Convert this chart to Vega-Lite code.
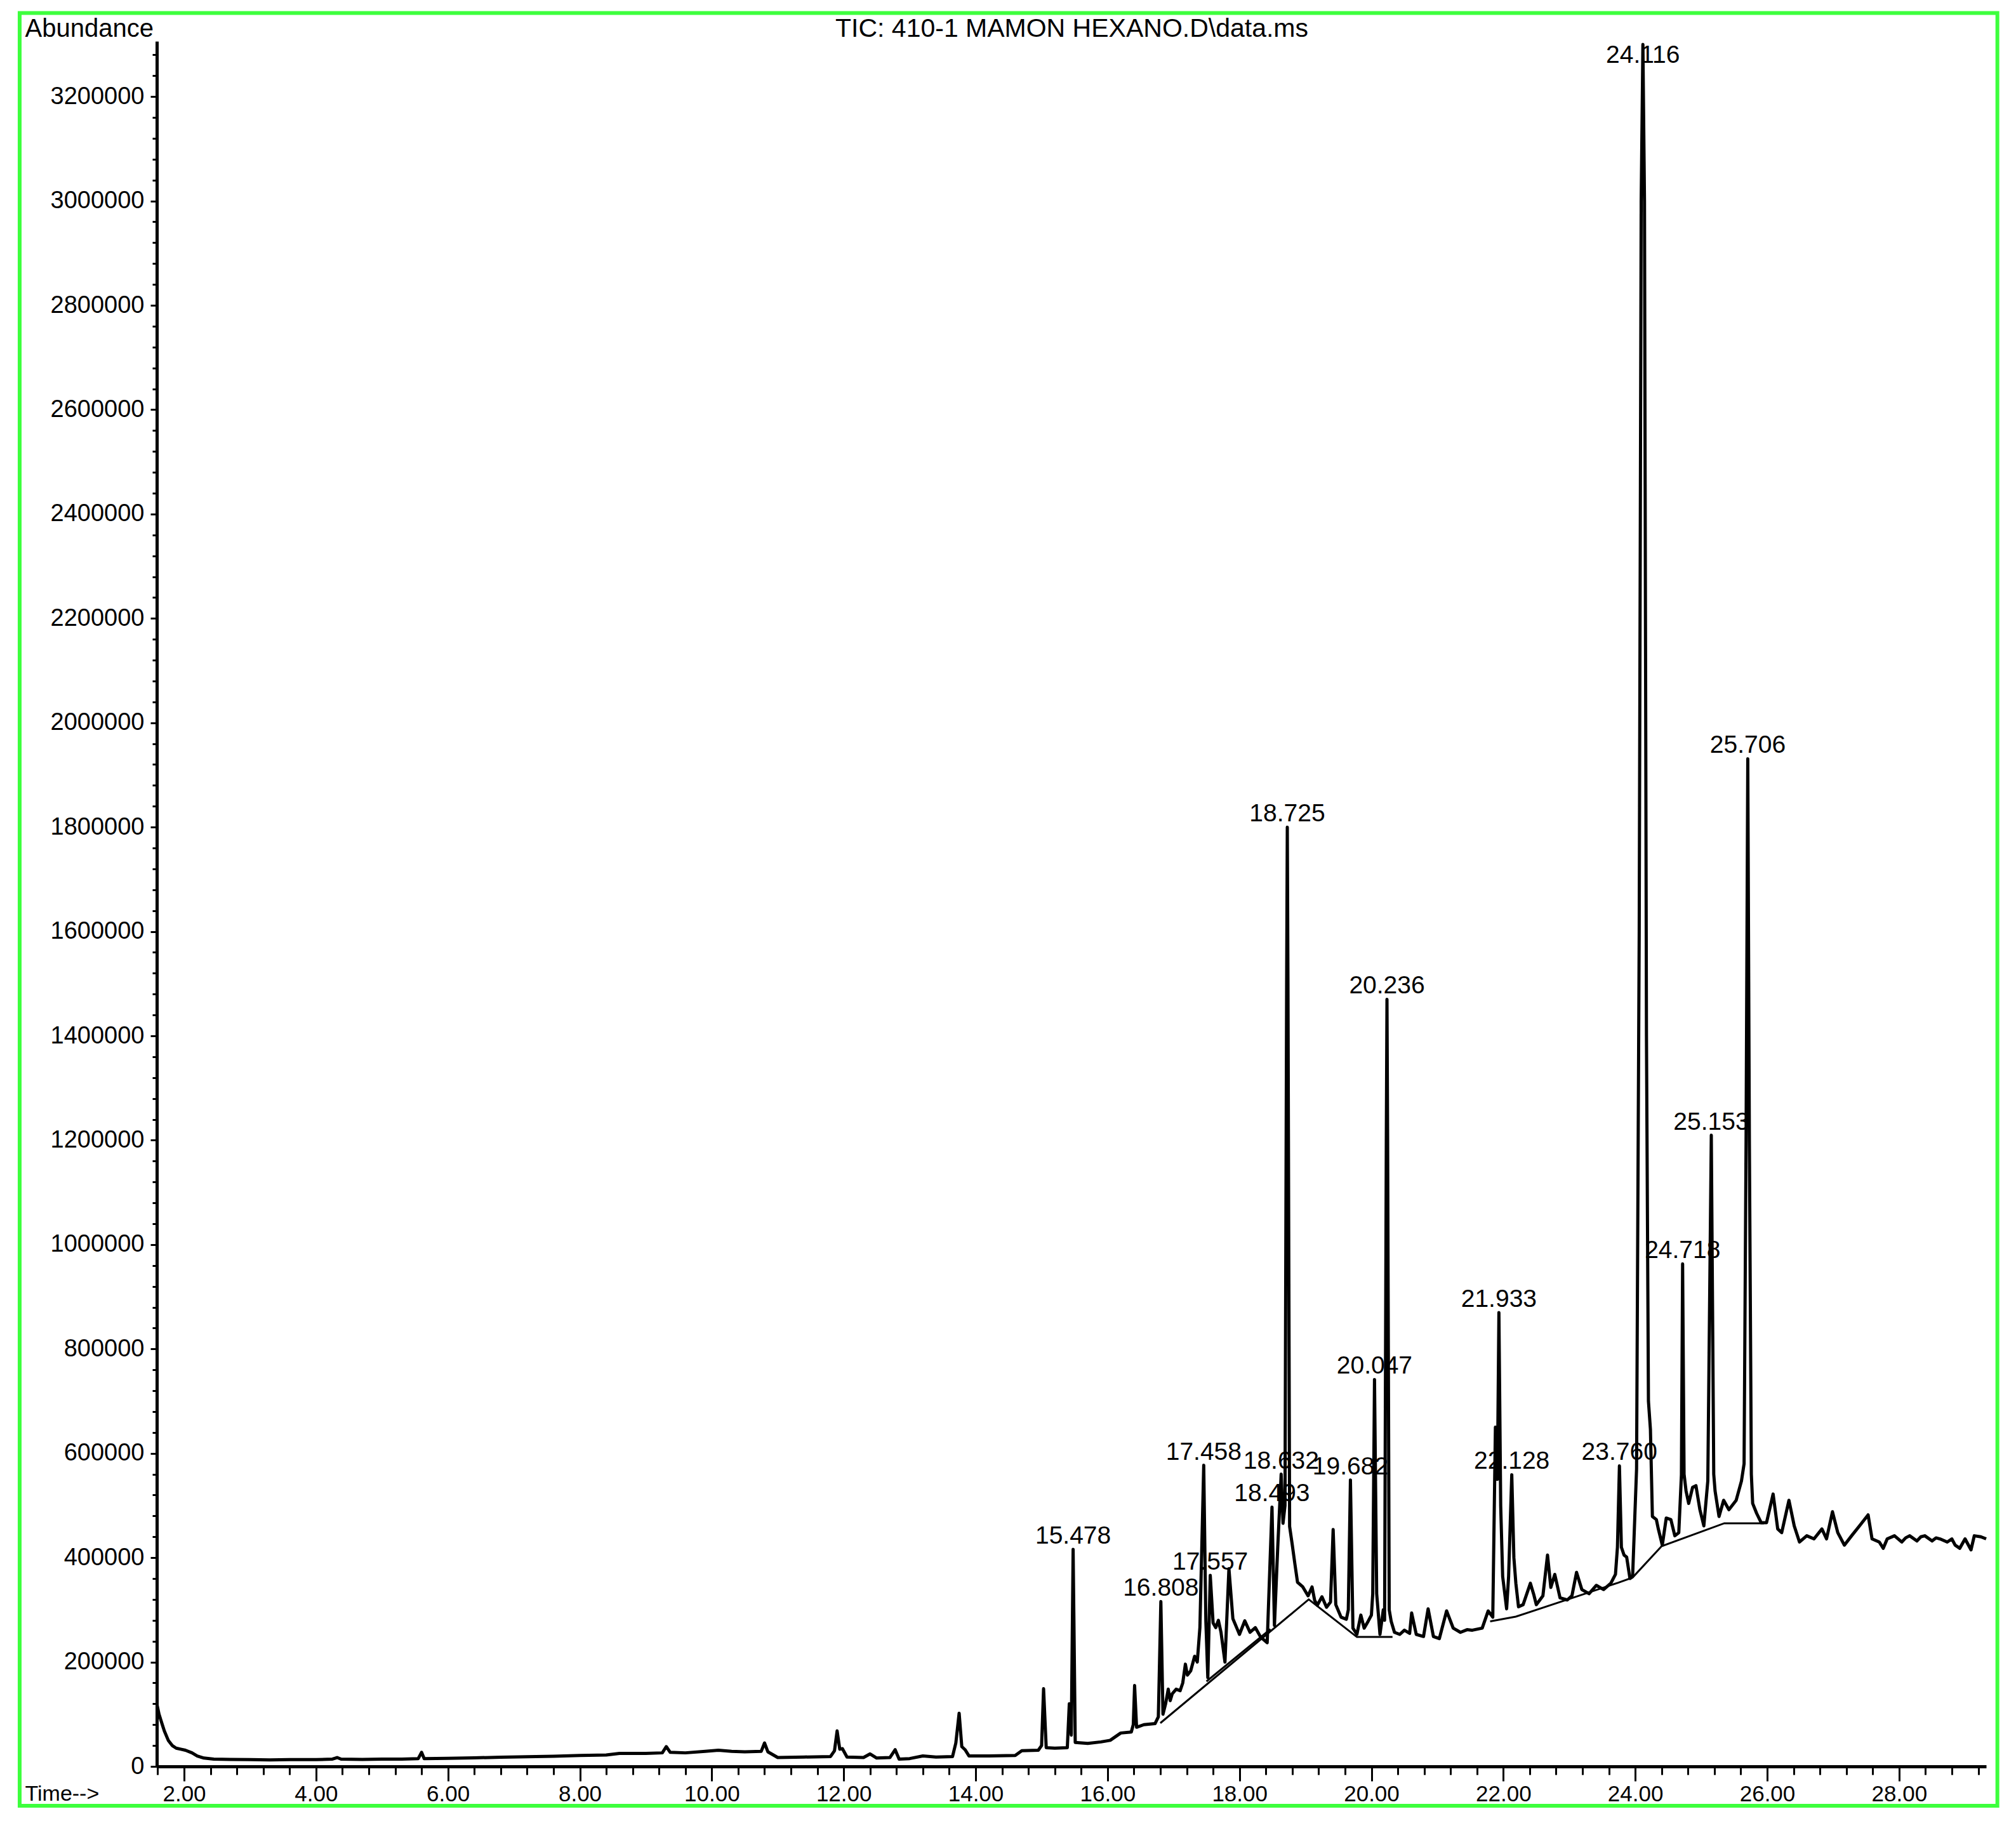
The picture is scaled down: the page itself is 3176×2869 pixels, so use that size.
{
  "$schema": "https://vega.github.io/schema/vega-lite/v6.json",
  "width": 2882,
  "height": 2718,
  "autosize": {"type": "none"},
  "padding": {"left": 247, "top": 65, "right": 47, "bottom": 86},
  "background": "white",
  "datasets": {
    "trace": [
      {"t":1.59,"a":118000},{"t":1.62,"a":100000},{"t":1.65,"a":88000},{"t":1.70,"a":68000},{"t":1.76,"a":50000},{"t":1.82,"a":40000},{"t":1.88,"a":35000},{"t":1.95,"a":33000},{"t":2.02,"a":31000},{"t":2.12,"a":26000},{"t":2.2,"a":20000},{"t":2.3,"a":16000},{"t":2.45,"a":14000},{"t":2.7,"a":13500},{"t":3.0,"a":13000},{"t":3.3,"a":12500},{"t":3.6,"a":13000},{"t":4.0,"a":13000},{"t":4.25,"a":14000},{"t":4.32,"a":17000},{"t":4.38,"a":14000},{"t":4.7,"a":13500},{"t":5.0,"a":14000},{"t":5.3,"a":14000},{"t":5.55,"a":15000},{"t":5.6,"a":27000},{"t":5.64,"a":15000},{"t":6.0,"a":15500},{"t":6.4,"a":16500},{"t":6.8,"a":17500},{"t":7.2,"a":18500},{"t":7.6,"a":19500},{"t":8.0,"a":21000},{"t":8.4,"a":22000},{"t":8.6,"a":25000},{"t":9.0,"a":25000},{"t":9.25,"a":26000},{"t":9.31,"a":38000},{"t":9.37,"a":27000},{"t":9.6,"a":26000},{"t":9.9,"a":29000},{"t":10.1,"a":31000},{"t":10.3,"a":29000},{"t":10.5,"a":28000},{"t":10.75,"a":29000},{"t":10.8,"a":45000},{"t":10.85,"a":28000},{"t":11.0,"a":17000},{"t":11.4,"a":18000},{"t":11.8,"a":19000},{"t":11.86,"a":30000},{"t":11.9,"a":68000},{"t":11.94,"a":33000},{"t":11.98,"a":34000},{"t":12.05,"a":18000},{"t":12.3,"a":17000},{"t":12.4,"a":24000},{"t":12.5,"a":16000},{"t":12.7,"a":17000},{"t":12.78,"a":32000},{"t":12.84,"a":14000},{"t":13.0,"a":15000},{"t":13.2,"a":20000},{"t":13.4,"a":18000},{"t":13.65,"a":19000},{"t":13.7,"a":45000},{"t":13.75,"a":102000},{"t":13.79,"a":38000},{"t":13.84,"a":32000},{"t":13.9,"a":20000},{"t":14.2,"a":20000},{"t":14.6,"a":21000},{"t":14.7,"a":30000},{"t":14.95,"a":31000},{"t":15.0,"a":40000},{"t":15.03,"a":149000},{"t":15.07,"a":36000},{"t":15.2,"a":35000},{"t":15.39,"a":36000},{"t":15.42,"a":120000},{"t":15.45,"a":60000},{"t":15.478,"a":416000},{"t":15.51,"a":46000},{"t":15.7,"a":44000},{"t":15.9,"a":47000},{"t":16.04,"a":50000},{"t":16.2,"a":64000},{"t":16.36,"a":66000},{"t":16.39,"a":80000},{"t":16.41,"a":155000},{"t":16.44,"a":75000},{"t":16.55,"a":80000},{"t":16.72,"a":82000},{"t":16.77,"a":95000},{"t":16.808,"a":316000},{"t":16.84,"a":100000},{"t":16.88,"a":120000},{"t":16.92,"a":148000},{"t":16.95,"a":126000},{"t":16.98,"a":139000},{"t":17.04,"a":148000},{"t":17.1,"a":145000},{"t":17.14,"a":160000},{"t":17.18,"a":196000},{"t":17.21,"a":175000},{"t":17.26,"a":183000},{"t":17.32,"a":211000},{"t":17.36,"a":200000},{"t":17.4,"a":266000},{"t":17.458,"a":577000},{"t":17.49,"a":279000},{"t":17.52,"a":170000},{"t":17.557,"a":366000},{"t":17.6,"a":275000},{"t":17.64,"a":266000},{"t":17.68,"a":280000},{"t":17.72,"a":257000},{"t":17.78,"a":200000},{"t":17.84,"a":379000},{"t":17.9,"a":283000},{"t":17.96,"a":265000},{"t":18.0,"a":253000},{"t":18.08,"a":279000},{"t":18.16,"a":257000},{"t":18.24,"a":266000},{"t":18.32,"a":248000},{"t":18.42,"a":237000},{"t":18.46,"a":380000},{"t":18.493,"a":497000},{"t":18.53,"a":270000},{"t":18.58,"a":420000},{"t":18.632,"a":560000},{"t":18.66,"a":466000},{"t":18.69,"a":500000},{"t":18.715,"a":1500000},{"t":18.725,"a":1800000},{"t":18.735,"a":1500000},{"t":18.76,"a":460000},{"t":18.8,"a":425000},{"t":18.84,"a":388000},{"t":18.88,"a":353000},{"t":18.96,"a":344000},{"t":19.04,"a":327000},{"t":19.1,"a":344000},{"t":19.14,"a":318000},{"t":19.18,"a":309000},{"t":19.25,"a":325000},{"t":19.32,"a":305000},{"t":19.38,"a":315000},{"t":19.42,"a":454000},{"t":19.46,"a":310000},{"t":19.54,"a":286000},{"t":19.62,"a":282000},{"t":19.65,"a":300000},{"t":19.682,"a":549000},{"t":19.72,"a":265000},{"t":19.78,"a":253000},{"t":19.84,"a":290000},{"t":19.89,"a":265000},{"t":19.95,"a":278000},{"t":20.0,"a":290000},{"t":20.02,"a":330000},{"t":20.047,"a":741500},{"t":20.08,"a":331000},{"t":20.13,"a":253000},{"t":20.18,"a":300000},{"t":20.2,"a":280000},{"t":20.226,"a":1200000},{"t":20.236,"a":1470000},{"t":20.246,"a":1200000},{"t":20.27,"a":300000},{"t":20.3,"a":278000},{"t":20.35,"a":257000},{"t":20.43,"a":253000},{"t":20.5,"a":261000},{"t":20.58,"a":255000},{"t":20.61,"a":294000},{"t":20.68,"a":253000},{"t":20.79,"a":249000},{"t":20.86,"a":302000},{"t":20.94,"a":249000},{"t":21.03,"a":245000},{"t":21.14,"a":298000},{"t":21.24,"a":265000},{"t":21.35,"a":257000},{"t":21.45,"a":262000},{"t":21.53,"a":261000},{"t":21.68,"a":265000},{"t":21.77,"a":298000},{"t":21.84,"a":286000},{"t":21.88,"a":650000},{"t":21.91,"a":550000},{"t":21.933,"a":869600},{"t":21.96,"a":500000},{"t":21.99,"a":364000},{"t":22.05,"a":302000},{"t":22.08,"a":364000},{"t":22.128,"a":559000},{"t":22.16,"a":400000},{"t":22.19,"a":351000},{"t":22.23,"a":306000},{"t":22.3,"a":310000},{"t":22.41,"a":351000},{"t":22.46,"a":330000},{"t":22.5,"a":310000},{"t":22.6,"a":327000},{"t":22.67,"a":405000},{"t":22.72,"a":343000},{"t":22.78,"a":368000},{"t":22.86,"a":323000},{"t":22.97,"a":319000},{"t":23.04,"a":327000},{"t":23.11,"a":372000},{"t":23.19,"a":339000},{"t":23.3,"a":331000},{"t":23.41,"a":347000},{"t":23.52,"a":339000},{"t":23.63,"a":351000},{"t":23.7,"a":368000},{"t":23.73,"a":420000},{"t":23.76,"a":576000},{"t":23.79,"a":420000},{"t":23.83,"a":405000},{"t":23.87,"a":401000},{"t":23.92,"a":360000},{"t":23.96,"a":364000},{"t":24.02,"a":570000},{"t":24.06,"a":1600000},{"t":24.09,"a":3000000},{"t":24.116,"a":3300000},{"t":24.14,"a":3000000},{"t":24.17,"a":1400000},{"t":24.2,"a":700000},{"t":24.23,"a":646000},{"t":24.26,"a":479000},{"t":24.32,"a":473000},{"t":24.35,"a":455000},{"t":24.41,"a":424000},{"t":24.47,"a":476000},{"t":24.54,"a":473000},{"t":24.6,"a":442000},{"t":24.66,"a":448000},{"t":24.7,"a":559000},{"t":24.718,"a":963000},{"t":24.74,"a":560000},{"t":24.77,"a":528000},{"t":24.81,"a":504000},{"t":24.87,"a":535000},{"t":24.92,"a":538000},{"t":24.98,"a":492000},{"t":25.04,"a":461000},{"t":25.1,"a":547000},{"t":25.153,"a":1209500},{"t":25.19,"a":560000},{"t":25.21,"a":528000},{"t":25.27,"a":479000},{"t":25.34,"a":510000},{"t":25.42,"a":492000},{"t":25.53,"a":510000},{"t":25.61,"a":547000},{"t":25.65,"a":580000},{"t":25.68,"a":1200000},{"t":25.706,"a":1931000},{"t":25.73,"a":1200000},{"t":25.76,"a":560000},{"t":25.78,"a":504000},{"t":25.84,"a":485000},{"t":25.91,"a":467000},{"t":25.99,"a":467000},{"t":26.09,"a":522000},{"t":26.16,"a":455000},{"t":26.22,"a":448000},{"t":26.33,"a":510000},{"t":26.41,"a":461000},{"t":26.49,"a":430000},{"t":26.6,"a":442000},{"t":26.71,"a":436000},{"t":26.83,"a":455000},{"t":26.9,"a":436000},{"t":26.99,"a":488000},{"t":27.07,"a":448000},{"t":27.17,"a":424000},{"t":27.28,"a":442000},{"t":27.4,"a":461000},{"t":27.53,"a":482000},{"t":27.59,"a":436000},{"t":27.7,"a":430000},{"t":27.76,"a":418000},{"t":27.82,"a":436000},{"t":27.93,"a":442000},{"t":28.04,"a":430000},{"t":28.1,"a":438000},{"t":28.16,"a":442000},{"t":28.27,"a":432000},{"t":28.33,"a":440000},{"t":28.39,"a":442000},{"t":28.5,"a":432000},{"t":28.56,"a":438000},{"t":28.62,"a":436000},{"t":28.73,"a":430000},{"t":28.8,"a":436000},{"t":28.85,"a":424000},{"t":28.92,"a":418000},{"t":29.0,"a":436000},{"t":29.09,"a":415000},{"t":29.14,"a":442000},{"t":29.24,"a":440000},{"t":29.32,"a":436000}
    ],
    "baselines": [
      {"seg":1,"t":16.80,"a":83000},{"seg":1,"t":19.05,"a":320000},{"seg":1,"t":19.78,"a":248000},{"seg":1,"t":20.32,"a":248000},
      {"seg":2,"t":17.50,"a":163000},{"seg":2,"t":18.47,"a":263000},
      {"seg":3,"t":21.80,"a":278000},{"seg":3,"t":22.19,"a":287000},{"seg":3,"t":23.74,"a":352000},{"seg":3,"t":23.96,"a":362000},{"seg":3,"t":24.40,"a":422000},{"seg":3,"t":25.35,"a":466000},{"seg":3,"t":25.95,"a":466000}
    ],
    "peaks": [
      {"t":15.478,"a":416000},{"t":16.808,"a":316000},{"t":17.458,"a":577000},{"t":17.557,"a":366000},{"t":18.493,"a":497000},{"t":18.632,"a":560000},{"t":18.725,"a":1800000},{"t":19.682,"a":549000},{"t":20.047,"a":741500},{"t":20.236,"a":1470000},{"t":21.933,"a":869600},{"t":22.128,"a":559000},{"t":23.760,"a":576000},{"t":24.116,"a":3300000},{"t":24.718,"a":963000},{"t":25.153,"a":1209500},{"t":25.706,"a":1931000}
    ]
  },
  "resolve": {"axis": {"x": "independent", "y": "independent"}},
  "layer": [
    {
      "data": {"values": [{}]},
      "mark": {"type": "rect", "filled": false, "fill": null, "stroke": "#3dff3d", "strokeWidth": 6},
      "encoding": {
        "x": {"datum": -0.493, "type": "quantitative", "scale": {"domain": [1.586, 29.32], "nice": false, "zero": false},
              "axis": {"orient": "top", "domain": false, "ticks": false, "labels": false, "grid": false,
                       "title": "TIC: 410-1 MAMON HEXANO.D\\data.ms", "titleFont": "Liberation Sans", "titleFontSize": 41, "titleFontWeight": "normal", "titleColor": "#000000",
                       "titleX": 1441, "titleY": -8, "titleAlign": "center", "titleBaseline": "alphabetic"}},
        "x2": {"datum": 29.49},
        "y": {"datum": 3360000, "type": "quantitative", "scale": {"domain": [0, 3306000], "nice": false}, "axis": null},
        "y2": {"datum": -75400}
      }
    },
    {
      "data": {"name": "peaks"},
      "transform": [{"calculate": "min(datum.a, 3254000)", "as": "a"}],
      "mark": {"type": "text", "font": "Liberation Sans", "fontSize": 39, "color": "#000000", "align": "center", "baseline": "alphabetic", "dy": -9},
      "encoding": {
        "x": {"field": "t", "type": "quantitative", "axis": null},
        "y": {"field": "a", "type": "quantitative", "axis": null},
        "text": {"field": "t", "type": "quantitative", "format": ".3f"}
      }
    },
    {
      "data": {"name": "baselines"},
      "mark": {"type": "line", "color": "#000000", "strokeWidth": 3},
      "encoding": {
        "x": {"field": "t", "type": "quantitative", "axis": null},
        "y": {"field": "a", "type": "quantitative", "axis": null},
        "detail": {"field": "seg", "type": "nominal"}
      }
    },
    {
      "data": {"name": "trace"},
      "mark": {"type": "line", "color": "#000000", "strokeWidth": 5, "strokeJoin": "round"},
      "encoding": {
        "x": {
          "field": "t", "type": "quantitative",
          "scale": {"domain": [1.586, 29.32], "nice": false, "zero": false},
          "axis": {
            "orient": "bottom",
            "values": [1.6,2,2.4,2.8,3.2,3.6,4,4.4,4.8,5.2,5.6,6,6.4,6.8,7.2,7.6,8,8.4,8.8,9.2,9.6,10,10.4,10.8,11.2,11.6,12,12.4,12.8,13.2,13.6,14,14.4,14.8,15.2,15.6,16,16.4,16.8,17.2,17.6,18,18.4,18.8,19.2,19.6,20,20.4,20.8,21.2,21.6,22,22.4,22.8,23.2,23.6,24,24.4,24.8,25.2,25.6,26,26.4,26.8,27.2,27.6,28,28.4,28.8,29.2],
            "format": ".2f",
            "labelExpr": "abs(datum.value/2 - round(datum.value/2)) < 0.001 ? datum.label : ''",
            "tickSize": {"condition": {"test": "abs(datum.value/2 - round(datum.value/2)) < 0.001", "value": 23}, "value": 13},
            "tickWidth": 3, "tickColor": "#000000",
            "domainColor": "#000000", "domainWidth": 5,
            "labelFont": "Liberation Sans", "labelFontSize": 35, "labelColor": "#000000", "labelPadding": 3,
            "labelOverlap": false, "labelFlush": false, "grid": false,
            "title": "Time-->", "titleFont": "Liberation Sans", "titleFontSize": 34, "titleFontWeight": "normal", "titleColor": "#000000",
            "titleX": -208, "titleY": 53, "titleAlign": "left", "titleBaseline": "alphabetic"
          }
        },
        "y": {
          "field": "a", "type": "quantitative",
          "scale": {"domain": [0, 3306000], "nice": false},
          "axis": {
            "orient": "left",
            "values": [0,40000,80000,120000,160000,200000,240000,280000,320000,360000,400000,440000,480000,520000,560000,600000,640000,680000,720000,760000,800000,840000,880000,920000,960000,1000000,1040000,1080000,1120000,1160000,1200000,1240000,1280000,1320000,1360000,1400000,1440000,1480000,1520000,1560000,1600000,1640000,1680000,1720000,1760000,1800000,1840000,1880000,1920000,1960000,2000000,2040000,2080000,2120000,2160000,2200000,2240000,2280000,2320000,2360000,2400000,2440000,2480000,2520000,2560000,2600000,2640000,2680000,2720000,2760000,2800000,2840000,2880000,2920000,2960000,3000000,3040000,3080000,3120000,3160000,3200000,3240000,3280000],
            "format": "d",
            "labelExpr": "datum.value % 200000 == 0 ? datum.label : ''",
            "tickSize": {"condition": {"test": "datum.value % 200000 == 0", "value": 10}, "value": 7},
            "tickWidth": 3, "tickColor": "#000000",
            "domainColor": "#000000", "domainWidth": 5,
            "labelFont": "Liberation Sans", "labelFontSize": 38, "labelColor": "#000000", "labelPadding": 10,
            "labelOverlap": false, "labelFlush": false, "grid": false,
            "title": "Abundance", "titleFont": "Liberation Sans", "titleFontSize": 40, "titleFontWeight": "normal", "titleColor": "#000000",
            "titleAngle": 0, "titleX": -208, "titleY": -8, "titleAlign": "left", "titleBaseline": "alphabetic"
          }
        }
      }
    }
  ],
  "config": {"view": {"stroke": null}, "axis": {"labelOverlap": false, "grid": false}}
}
